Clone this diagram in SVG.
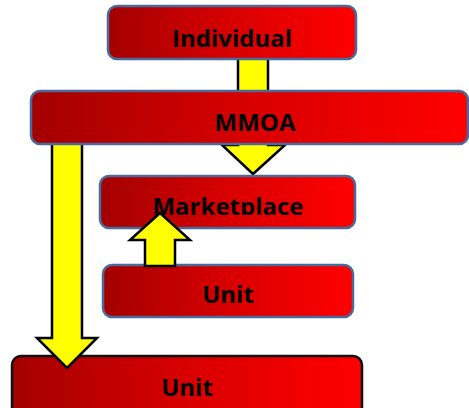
<svg xmlns="http://www.w3.org/2000/svg" width="469" height="408" viewBox="0 0 469 408">
  <defs>
    <linearGradient id="redFill" x1="0" y1="0" x2="1" y2="0">
      <stop offset="0" stop-color="#a30000"/>
      <stop offset="0.5" stop-color="#d80000"/>
      <stop offset="1" stop-color="#ff0000"/>
    </linearGradient>
    <clipPath id="marketClip">
      <rect x="100" y="175" width="256" height="40"/>
    </clipPath>
  </defs>
  <style>
    .box { fill: url(#redFill); stroke: #4a6a9c; stroke-width: 2.5; }
    .box-dark { fill: url(#redFill); stroke: #111; stroke-width: 2.5; }
    .label { font-family: "Open Sans", "DejaVu Sans", sans-serif; font-weight: 700; font-size: 24px; fill: #000; text-anchor: middle; }
    .arrow { fill: #ffff00; stroke: #000; stroke-width: 2.5; stroke-linejoin: miter; }
  </style>

  <!-- arrows that sit behind the boxes -->
  <g id="connectors-back">
    <!-- Individual down to Marketplace -->
    <polygon class="arrow" points="238,58 268,58 268,145 285,145 253,174 222,145 238,145"/>
  </g>

  <g id="node-individual">
    <rect class="box" x="108" y="6" width="248" height="53" rx="9"/>
    <text class="label" x="232" y="47">Individual</text>
  </g>

  <g id="node-marketplace">
    <rect class="box" x="100" y="176" width="255" height="52" rx="9"/>
    <text class="label" x="228" y="215" clip-path="url(#marketClip)">Marketplace</text>
  </g>

  <g id="node-unit-top">
    <rect class="box" x="103" y="265" width="250" height="52" rx="9"/>
    <text class="label" x="228" y="303">Unit</text>
  </g>

  <g id="node-unit-bottom">
    <rect class="box-dark" x="12" y="356" width="350" height="70" rx="9"/>
    <text class="label" x="187" y="396">Unit</text>
  </g>

  <g id="connectors">
    <!-- MMOA down to bottom Unit -->
    <polygon class="arrow" points="52,140 82,140 82,338 97,338 67,368 37,338 52,338"/>
    <!-- Unit up to Marketplace -->
    <polygon class="arrow" points="145,266 175,266 175,240 190,240 160,213 130,240 145,240"/>
  </g>

  <g id="node-mmoa">
    <rect class="box" x="31" y="91" width="437" height="53" rx="9"/>
    <text class="label" x="255" y="131">MMOA</text>
  </g>
</svg>
